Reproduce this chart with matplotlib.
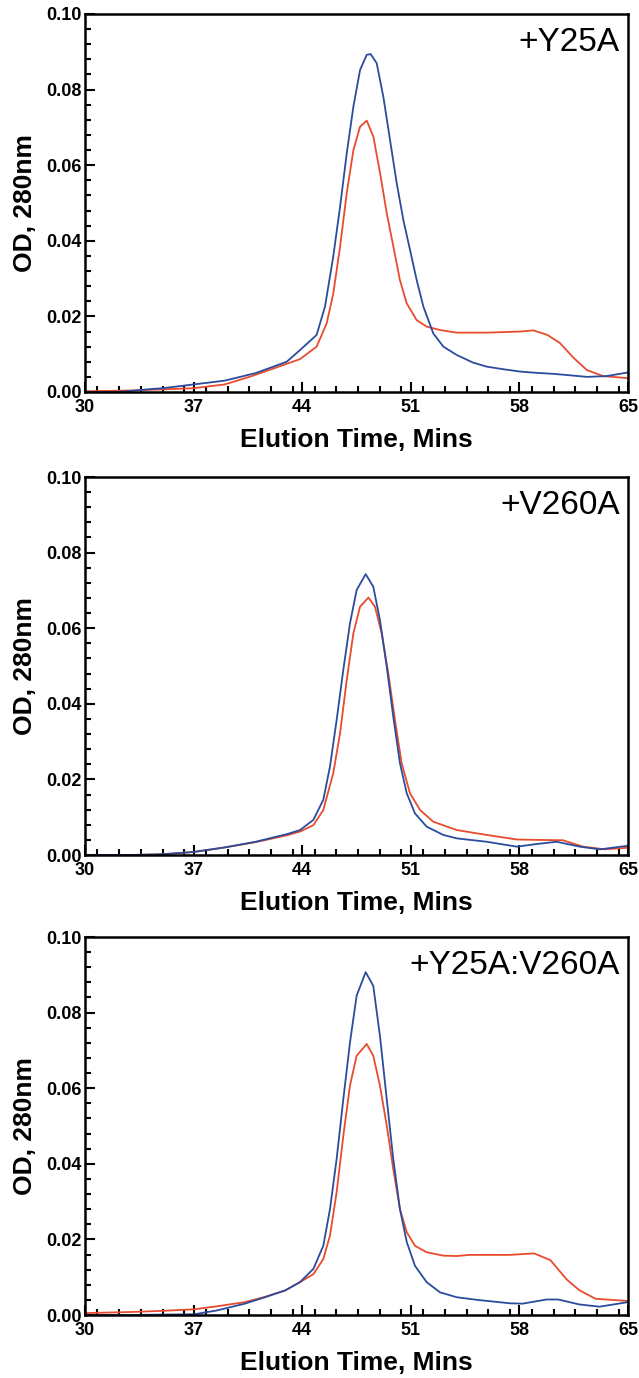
import numpy as np
import matplotlib
matplotlib.use("Agg")
import matplotlib.pyplot as plt
from matplotlib.ticker import MultipleLocator, FormatStrFormatter

plt.rcParams['font.family'] = ['Liberation Sans', 'DejaVu Sans']

# panel 1: +Y25A
p1_blue_x = [30, 31, 32, 33, 34, 35, 36, 37, 38, 39, 40, 41, 42, 43, 43.86, 44.93, 45.47,
             46.0, 46.44, 46.87, 47.3, 47.73, 48.16, 48.41, 48.8, 49.23, 49.66, 50.09,
             50.52, 50.95, 51.38, 51.81, 52.45, 53.1, 53.96, 55.0, 55.9, 57.0, 58.05,
             59.0, 60.2, 61.3, 62.35, 63.6, 64.9, 65]
p1_blue_y = [0.000, 0.000, 0.000, 0.0003, 0.0007, 0.001, 0.0015, 0.002, 0.0025, 0.003,
             0.004, 0.005, 0.0065, 0.008, 0.0111, 0.0151, 0.0226,
             0.0358, 0.049, 0.0631, 0.0755, 0.0852, 0.0892, 0.0894, 0.087, 0.0781, 0.0667,
             0.0553, 0.0455, 0.0376, 0.0296, 0.0226, 0.0155, 0.012, 0.0098, 0.0078,
             0.0067, 0.006, 0.0054, 0.0051, 0.0048, 0.0044, 0.004, 0.0042, 0.0051, 0.0052]
p1_red_x = [30, 33, 35, 37, 39, 40.6, 42, 43.86, 44.93, 45.58, 46.0, 46.44, 46.87, 47.3,
            47.73, 48.16, 48.59, 49.02, 49.45, 49.88, 50.3, 50.73, 51.38, 52.02, 52.88,
            53.96, 55.9, 58.05, 58.9, 59.8, 60.6, 61.5, 62.35, 63.4, 64.9, 65]
p1_red_y = [0.0002, 0.0004, 0.0007, 0.001, 0.002, 0.004, 0.006, 0.0087, 0.012, 0.0182,
            0.026, 0.0384, 0.0526, 0.064, 0.0702, 0.0718, 0.0675, 0.0579, 0.0473, 0.0384,
            0.0296, 0.0235, 0.019, 0.0173, 0.0164, 0.0157, 0.0157, 0.016, 0.0163, 0.0151,
            0.013, 0.009, 0.0058, 0.0042, 0.0037, 0.0037]

# panel 2: +V260A
p2_blue_x = [30, 33, 35, 37, 39, 41, 43, 43.86, 44.72, 45.36, 45.79, 46.22, 46.65, 47.08,
             47.51, 48.09, 48.58, 49.01, 49.45, 49.87, 50.3, 50.74, 51.27, 52.02, 53.1,
             53.96, 55.9, 57.84, 59.1, 60.4, 61.9, 63.2, 64.9, 65]
p2_blue_y = [0.000, 0.000, 0.0002, 0.0008, 0.002, 0.0035, 0.0055, 0.0066, 0.0093, 0.0146,
             0.0234, 0.0357, 0.049, 0.0613, 0.0701, 0.0743, 0.071, 0.0622, 0.0498, 0.0366,
             0.0243, 0.0163, 0.011, 0.0075, 0.0053, 0.0044, 0.0035, 0.0022, 0.0029, 0.0035,
             0.0022, 0.0015, 0.0024, 0.0025]
p2_red_x = [30, 33, 35, 37, 39, 41, 43, 43.86, 44.72, 45.36, 46.0, 46.44, 46.87, 47.3,
            47.73, 48.27, 48.69, 49.12, 49.55, 49.98, 50.41, 50.95, 51.6, 52.45, 53.96,
            55.9, 57.84, 59.1, 60.8, 62.1, 63.5, 64.9, 65]
p2_red_y = [0.000, 0.000, 0.0002, 0.0008, 0.002, 0.0034, 0.0052, 0.0062, 0.0079, 0.0119,
            0.0216, 0.0322, 0.0463, 0.0587, 0.0657, 0.0681, 0.0657, 0.0587, 0.048, 0.0357,
            0.0243, 0.0163, 0.0119, 0.0088, 0.0066, 0.0053, 0.0041, 0.004, 0.0039, 0.0022,
            0.0015, 0.0019, 0.002]

# panel 3: +Y25A:V260A
p3_blue_x = [30, 33, 35, 37.04, 38.5, 40.3, 41.6, 42.9, 43.86, 44.72, 45.36, 45.79, 46.22,
             46.65, 47.08, 47.51, 48.09, 48.58, 49.01, 49.45, 49.87, 50.3, 50.74, 51.27,
             52.02, 52.88, 53.96, 55.28, 57.38, 58.2, 59.75, 60.5, 61.85, 63.16, 65]
p3_blue_y = [0.000, 0.000, 0.0001, 0.0002, 0.0012, 0.003, 0.0047, 0.0065, 0.0087, 0.0122,
             0.0183, 0.028, 0.0413, 0.0571, 0.0721, 0.0845, 0.0907, 0.0871, 0.0739, 0.0571,
             0.0413, 0.028, 0.0193, 0.013, 0.0087, 0.006, 0.0047, 0.004, 0.0031, 0.003,
             0.0041, 0.0041, 0.0028, 0.0022, 0.0034]
p3_red_x = [30, 33, 35, 37, 38.5, 40.3, 41.6, 42.9, 43.86, 44.72, 45.36, 45.79, 46.22,
            46.65, 47.08, 47.51, 48.16, 48.58, 49.01, 49.45, 49.87, 50.3, 50.74, 51.27,
            52.02, 53.1, 53.96, 54.76, 57.38, 58.95, 60.0, 61.05, 61.85, 62.9, 65]
p3_red_y = [0.0005, 0.0008, 0.0011, 0.0015, 0.0023, 0.0034, 0.0048, 0.0065, 0.0087, 0.0108,
            0.0148, 0.021, 0.0325, 0.0474, 0.0607, 0.0686, 0.0717, 0.0686, 0.0607, 0.0501,
            0.0386, 0.028, 0.0219, 0.0183, 0.0166, 0.0157, 0.0156, 0.0159, 0.0159, 0.0163,
            0.0145, 0.0094, 0.0066, 0.0043, 0.0037]

labels = ['+Y25A', '+V260A', '+Y25A:V260A']
xticks = [30, 37, 44, 51, 58, 65]

blue = '#2b4c9c'
red = '#e84b2e'

panels = [(p1_blue_x, p1_blue_y, p1_red_x, p1_red_y),
          (p2_blue_x, p2_blue_y, p2_red_x, p2_red_y),
          (p3_blue_x, p3_blue_y, p3_red_x, p3_red_y)]

W, H = 639, 1378
fig = plt.figure(figsize=(W / 100, H / 100), dpi=100)

tops = [14, 477, 937]
ax_h = 378
left, right = 85, 628

for (bx, by, rx, ry), lab, top in zip(panels, labels, tops):
    ax = fig.add_axes([left / W, 1 - (top + ax_h) / H, (right - left) / W, ax_h / H])
    ax.plot(rx, ry, color=red, lw=1.3)
    ax.plot(bx, by, color=blue, lw=1.3)
    ax.set_xlim(30, 65)
    ax.set_ylim(0, 0.10)
    ax.set_xticks(xticks)
    ax.xaxis.set_minor_locator(MultipleLocator(1.4))
    ax.yaxis.set_major_locator(MultipleLocator(0.02))
    ax.yaxis.set_minor_locator(MultipleLocator(0.004))
    ax.yaxis.set_major_formatter(FormatStrFormatter('%.2f'))
    ax.tick_params(which='both', direction='in', top=False, right=False, width=1.5)
    ax.tick_params(which='major', length=7)
    ax.tick_params(which='minor', length=4.5)
    ax.tick_params(axis='x', which='major', pad=5)
    ax.tick_params(axis='y', which='major', pad=2.5)
    for t in ax.get_xticklabels() + ax.get_yticklabels():
        t.set_fontsize(13)
        t.set_fontweight('bold')
    for s in ax.spines.values():
        s.set_linewidth(1.8)
    ax.set_ylabel('OD, 280nm', fontsize=19, fontweight='bold')
    ax.set_xlabel('Elution Time, Mins', fontsize=19, fontweight='bold')
    ax.yaxis.set_label_coords(-0.088, 0.5)
    ax.xaxis.set_label_coords(0.5, -0.095)
    ax.text(0.985, 0.965, lab, transform=ax.transAxes, ha='right', va='top', fontsize=24)

fig.savefig('out.png', dpi=100)
